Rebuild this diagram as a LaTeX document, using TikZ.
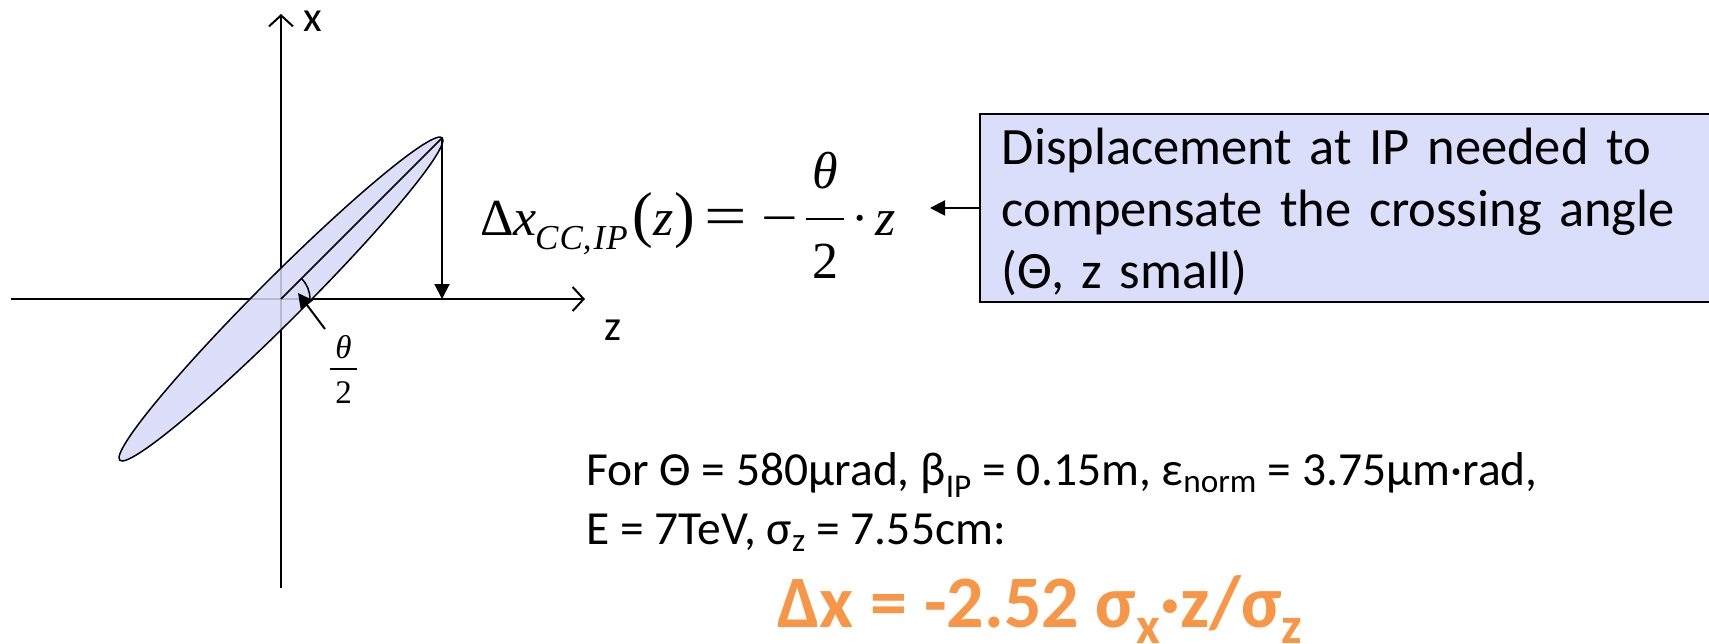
\documentclass[tikz,border=0pt]{standalone}
\usepackage{graphicx}
\usepackage[no-math]{fontspec}
\setmainfont{Carlito}
\newfontfamily\tms{Liberation Serif}
\usetikzlibrary{arrows.meta}
\definecolor{lav}{RGB}{219,222,250}
\definecolor{lavell}{RGB}{214,216,249}
\definecolor{accent}{RGB}{247,150,70}
\newcommand\fpiece[2]{\makebox[0pt][l]{\hspace*{#1pt}#2}}
\begin{document}
\begin{tikzpicture}[x=1pt,y=-1pt,
  axis/.style={line width=2pt,-{Straight Barb[length=11pt,width=24pt,line width=2pt]}},
  fillarr/.style={line width=2pt,-{Triangle[length=15pt,width=15pt]}},
  thin/.style={line width=1.5pt},
  axlabel/.style={inner sep=0pt,font=\fontsize{43}{46}\selectfont},
  bodytext/.style={anchor=base west,inner sep=0pt,font=\fontsize{47.5}{56}\selectfont},
  notebox/.style={draw,line width=1.5pt,fill=lav,anchor=north west,text width=720pt,
    inner xsep=22pt,inner ysep=14pt,align=left,font=\fontsize{52.5}{62}\selectfont}]
\path[use as bounding box] (0,0) rectangle (1709,643);
\clip (0,0) rectangle (1709,643);
% axes
\coordinate (O) at (281,299);
\coordinate (tip) at (442,138);
\draw[axis] (281,588) -- (281,14);
\draw[axis] (11,299) -- (585,299);
\node[axlabel] (xl) at (313,21) {x};
\node[axlabel] (zl) at (613,330) {z};
% bunch
\fill[lavell,fill opacity=0.85] (O) ellipse[x radius=228pt,y radius=22pt,rotate=45];
\draw[thin] (O) ellipse[x radius=228pt,y radius=22pt,rotate=45];
\draw[thin] (O) -- (tip);
\draw[thin] (310,299) arc[start angle=0,end angle=45,radius=29pt];
\coordinate (arcpt) at (298,293);
\coordinate (arctail) at (325,329);
\draw[fillarr] (arctail) -- (arcpt);
\node[anchor=base,inner sep=0pt,font=\tms\fontsize{33}{36}\selectfont] (half) at (343.5,369)
  {\fpiece{0}{\makebox[27pt]{\raisebox{11pt}{\itshape θ}}}\fpiece{0}{\makebox[27pt]{\raisebox{-34pt}{2}}}\rule[-1pt]{27pt}{1.6pt}};
\draw[fillarr] (tip) -- (tip |- O);
% formula
\node[anchor=base west,inner sep=0pt,font=\tms\fontsize{52}{56}\selectfont] (formula) at (480,235)
  {\fpiece{0}{Δ\textit{x}}%
   \fpiece{55}{\raisebox{-14pt}{\fontsize{35}{35}\selectfont\itshape C\kern1pt C,\kern2pt I\kern1pt P}}%
   \fpiece{152}{{\fontsize{62}{62}\selectfont(}\kern1pt\textit{z}{\fontsize{62}{62}\selectfont)}}%
   \fpiece{224}{\scalebox{1.45}[1.1]{=}}%
   \fpiece{281}{\scalebox{1.25}[1]{−}}%
   \fpiece{326}{\makebox[38pt]{\raisebox{47pt}{\itshape θ}}}%
   \fpiece{326}{\makebox[38pt]{\raisebox{-43pt}{2}}}%
   \fpiece{326}{\rule[15pt]{38pt}{2.2pt}}%
   \fpiece{371}{·}%
   \fpiece{395}{\textit{z}}%
   \hspace*{418pt}};
% box
\node[notebox] (box) at (979,113) {Displacement at IP needed to\\compensate the crossing angle\\\raisebox{0pt}[\height][0pt]{(Θ, z small)}};
\coordinate (ftip) at (930,212);
\draw[fillarr] (box.west) -- (box.west -| ftip);
% bottom text
\node[bodytext] (for1) at (586,485) {For Θ = 580µrad, β\textsubscript{IP} = 0.15m, ε\textsubscript{norm} = 3.75µm·rad,};
\node[bodytext] (for2) at (586,544) {E = 7TeV, σ\textsubscript{z} = 7.55cm:};
\node[anchor=base west,inner sep=0pt,text=accent,font=\fontsize{74}{80}\selectfont\bfseries] (res) at (777,627)
  {Δx = -2.52 σ\textsubscript{x}·z/σ\textsubscript{z}};
\end{tikzpicture}
\end{document}
